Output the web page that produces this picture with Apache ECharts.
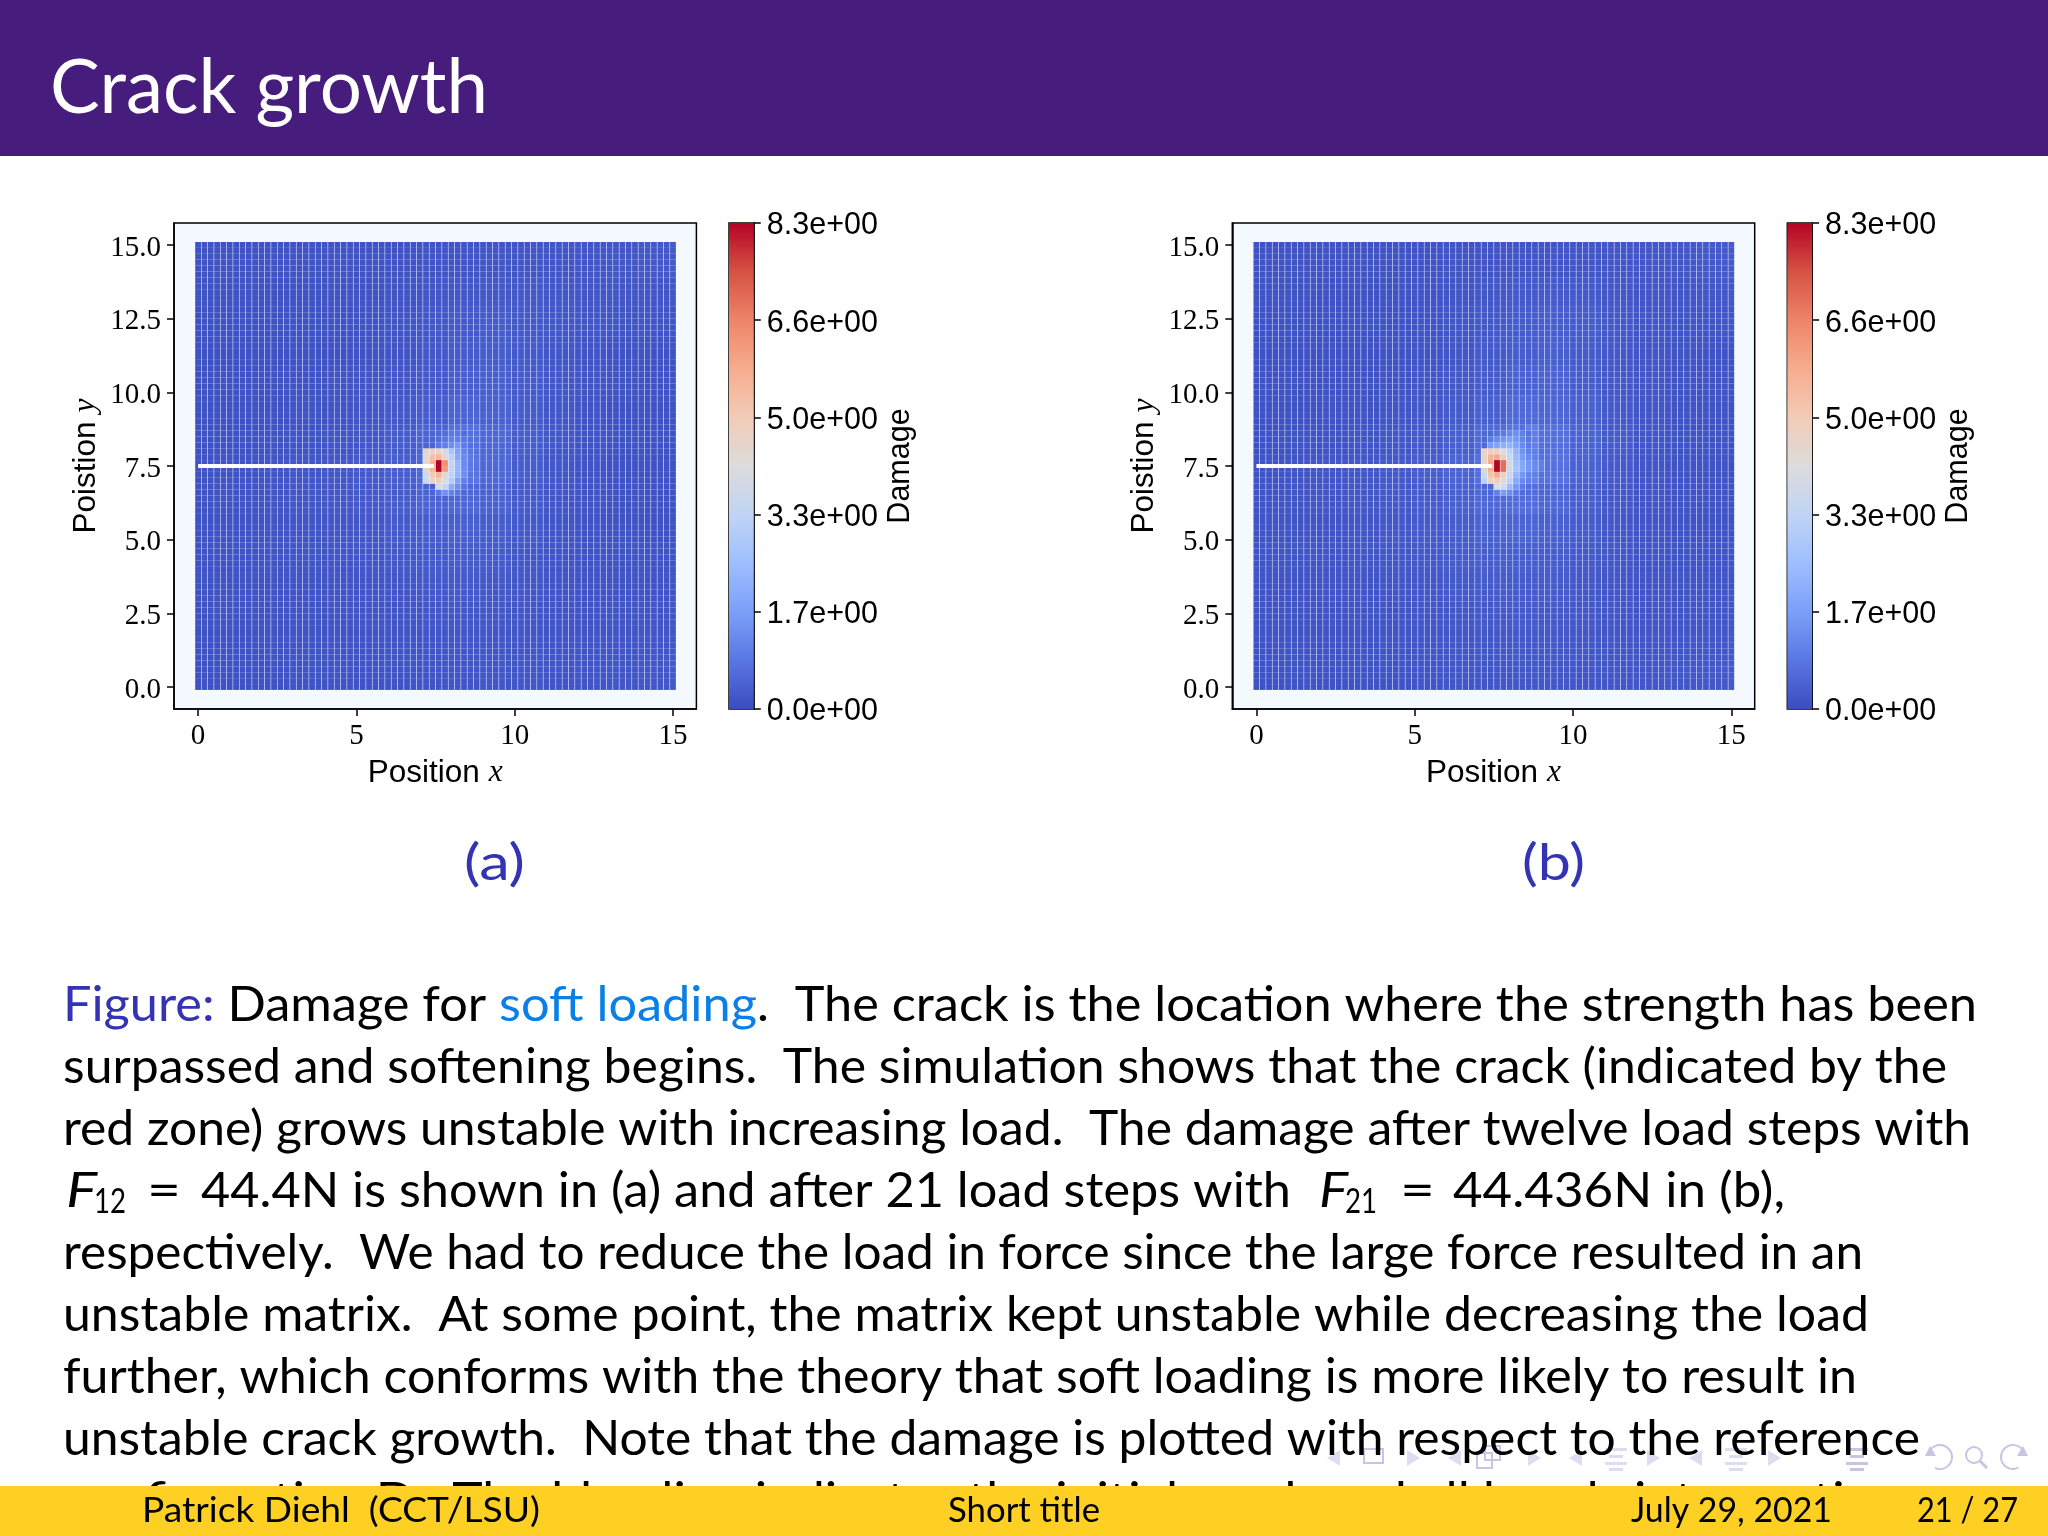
<!DOCTYPE html>
<html>
<head>
<meta charset="utf-8">
<title>Crack growth</title>
<script src="https://cdn.jsdelivr.net/npm/echarts@6/dist/echarts.min.js"></script>
<style>html,body{margin:0;padding:0;background:#fff}</style>
</head>
<body>
<div id="main" style="width:2048px;height:1536px;"></div>
<script type="text/javascript">
// mesh spacing of the simulation and number of nodes per side
var meshStep = 0.2;
var meshCount = 76;

// slow background damage per 1x1 block, top row is y=15, read by eye
var backgroundA = [
  [.14,.14,.13,.13,.13,.13,.13,.14,.15,.15,.16,.17,.18,.20,.24,.26],
  [.13,.13,.13,.13,.13,.13,.14,.15,.16,.17,.17,.17,.18,.19,.21,.24],
  [.13,.13,.12,.12,.13,.13,.15,.17,.20,.22,.21,.19,.17,.17,.18,.20],
  [.12,.12,.12,.12,.12,.13,.15,.19,.24,.27,.24,.20,.17,.15,.15,.16],
  [.12,.12,.12,.12,.12,.13,.16,.21,.28,.30,.25,.20,.16,.14,.13,.13],
  [.11,.11,.11,.12,.13,.15,.18,.24,.33,.34,.26,.19,.15,.13,.12,.12],
  [.11,.11,.12,.13,.14,.17,.21,.30,.42,.38,.27,.19,.14,.12,.11,.11],
  [.11,.12,.13,.14,.16,.20,.28,.42,.70,.50,.30,.20,.14,.12,.11,.11],
  [.13,.14,.15,.17,.20,.25,.33,.50,.75,.52,.30,.19,.14,.12,.11,.11],
  [.13,.14,.15,.17,.19,.23,.30,.42,.50,.40,.26,.18,.14,.12,.11,.12],
  [.14,.14,.15,.16,.18,.20,.25,.31,.34,.30,.23,.17,.14,.13,.12,.13],
  [.14,.14,.15,.15,.16,.18,.21,.25,.27,.25,.20,.16,.14,.13,.13,.14],
  [.13,.13,.14,.14,.15,.16,.18,.21,.23,.22,.19,.16,.14,.13,.14,.15],
  [.13,.13,.13,.14,.14,.15,.16,.18,.20,.20,.18,.16,.14,.15,.16,.17],
  [.12,.12,.13,.13,.14,.14,.15,.16,.18,.18,.17,.16,.15,.16,.18,.20],
  [.12,.12,.12,.13,.13,.14,.14,.15,.16,.17,.17,.16,.16,.17,.20,.23]
];
var backgroundB = [
  [.14,.14,.13,.13,.13,.13,.14,.15,.15,.16,.17,.18,.20,.22,.26,.28],
  [.13,.13,.13,.13,.13,.14,.15,.16,.17,.18,.18,.18,.19,.20,.23,.26],
  [.13,.13,.12,.12,.13,.14,.16,.19,.23,.25,.23,.20,.18,.18,.19,.22],
  [.12,.12,.12,.12,.12,.14,.17,.22,.28,.32,.27,.22,.18,.16,.16,.17],
  [.12,.12,.12,.12,.13,.15,.18,.25,.33,.36,.29,.22,.17,.15,.14,.14],
  [.11,.11,.12,.12,.14,.17,.21,.29,.40,.42,.31,.22,.17,.14,.13,.13],
  [.11,.12,.13,.14,.16,.20,.26,.37,.55,.48,.34,.23,.17,.14,.13,.13],
  [.12,.13,.14,.16,.19,.24,.34,.55,.95,.68,.40,.26,.18,.14,.13,.13],
  [.14,.15,.17,.20,.24,.31,.42,.65,1.0,.72,.40,.25,.17,.14,.13,.12],
  [.14,.15,.17,.20,.23,.28,.37,.52,.64,.50,.33,.22,.16,.14,.13,.13],
  [.15,.15,.16,.18,.21,.25,.31,.40,.44,.38,.28,.20,.16,.14,.13,.14],
  [.15,.15,.16,.17,.19,.22,.27,.32,.34,.31,.24,.19,.15,.14,.14,.15],
  [.14,.14,.15,.16,.17,.20,.23,.27,.29,.27,.22,.18,.15,.15,.15,.16],
  [.13,.14,.14,.15,.16,.18,.20,.23,.25,.24,.21,.18,.16,.16,.17,.18],
  [.13,.13,.14,.14,.15,.17,.18,.20,.22,.21,.19,.17,.17,.18,.20,.22],
  [.12,.13,.13,.14,.14,.16,.17,.18,.19,.19,.18,.17,.17,.19,.22,.25]
];

// nodes around the crack tip: x, y, damage
var tipCellsA = [
  [7.6,8.6,.5],[7.8,8.6,.6],[8.0,8.6,.8],[8.2,8.6,.8],[8.4,8.6,.6],
  [7.6,8.4,.6],[7.8,8.4,.8],[8.0,8.4,1.0],[8.2,8.4,1.0],[8.4,8.4,.8],
  [7.6,8.2,.8],[7.8,8.2,1.0],[8.0,8.2,1.3],[8.2,8.2,1.5],[8.4,8.2,.9],
  [7.2,8.0,4.6],[7.4,8.0,4.6],[7.6,8.0,4.6],[7.8,8.0,3.9],[8.0,8.0,2.8],[8.2,8.0,1.8],[8.4,8.0,1.1],[8.6,8.0,.8],
  [7.2,7.8,4.4],[7.4,7.8,5.3],[7.6,7.8,5.6],[7.8,7.8,4.5],[8.0,7.8,3.2],[8.2,7.8,1.9],[8.4,7.8,1.2],[8.6,7.8,.9],
  [7.2,7.6,4.5],[7.4,7.6,5.6],[7.6,7.6,8.3],[7.8,7.6,6.4],[8.0,7.6,3.5],[8.2,7.6,2.3],[8.4,7.6,1.2],[8.6,7.6,.9],
  [7.2,7.4,4.5],[7.4,7.4,5.6],[7.6,7.4,8.3],[7.8,7.4,6.2],[8.0,7.4,3.4],[8.2,7.4,2.3],[8.4,7.4,1.3],[8.6,7.4,.9],
  [7.2,7.2,3.8],[7.4,7.2,5.0],[7.6,7.2,5.6],[7.8,7.2,4.4],[8.0,7.2,3.3],[8.2,7.2,2.2],[8.4,7.2,1.3],[8.6,7.2,.8],
  [7.2,7.0,3.6],[7.4,7.0,4.6],[7.6,7.0,4.8],[7.8,7.0,4.1],[8.0,7.0,3.0],[8.2,7.0,1.7],[8.4,7.0,1.0],
  [7.6,6.8,4.0],[7.8,6.8,3.5],[8.0,6.8,2.0],[8.2,6.8,1.3],[8.4,6.8,.7],
  [7.6,6.6,.8],[7.8,6.6,1.4],[8.0,6.6,1.1],[8.2,6.6,.8]
];
var tipCellsB = [
  [7.8,8.8,.6],[8.0,8.8,.8],[8.2,8.8,.8],[8.4,8.8,.7],
  [7.6,8.6,.7],[7.8,8.6,.9],[8.0,8.6,1.2],[8.2,8.6,1.3],[8.4,8.6,1.0],[8.6,8.6,.7],
  [7.4,8.4,.9],[7.6,8.4,1.2],[7.8,8.4,1.5],[8.0,8.4,1.7],[8.2,8.4,1.5],[8.4,8.4,1.1],[8.6,8.4,.8],
  [7.4,8.2,1.6],[7.6,8.2,1.8],[7.8,8.2,2.1],[8.0,8.2,2.2],[8.2,8.2,1.8],[8.4,8.2,1.2],[8.6,8.2,.9],
  [7.2,8.0,4.6],[7.4,8.0,4.8],[7.6,8.0,4.7],[7.8,8.0,4.0],[8.0,8.0,3.2],[8.2,8.0,2.2],[8.4,8.0,1.4],[8.6,8.0,1.0],
  [7.2,7.8,4.7],[7.4,7.8,5.6],[7.6,7.8,5.9],[7.8,7.8,4.9],[8.0,7.8,3.6],[8.2,7.8,2.4],[8.4,7.8,1.6],[8.6,7.8,1.2],[8.8,7.8,1.0],
  [7.2,7.6,4.6],[7.4,7.6,5.8],[7.6,7.6,8.3],[7.8,7.6,7.0],[8.0,7.6,3.8],[8.2,7.6,2.6],[8.4,7.6,1.9],[8.6,7.6,1.5],[8.8,7.6,1.2],[9.0,7.6,1.0],
  [7.2,7.4,4.6],[7.4,7.4,5.8],[7.6,7.4,8.3],[7.8,7.4,7.0],[8.0,7.4,3.8],[8.2,7.4,2.7],[8.4,7.4,1.9],[8.6,7.4,1.5],[8.8,7.4,1.2],[9.0,7.4,1.0],
  [7.2,7.2,3.6],[7.4,7.2,5.2],[7.6,7.2,5.8],[7.8,7.2,4.8],[8.0,7.2,3.5],[8.2,7.2,2.3],[8.4,7.2,1.5],[8.6,7.2,1.1],
  [7.2,7.0,3.2],[7.4,7.0,4.6],[7.6,7.0,4.9],[7.8,7.0,4.3],[8.0,7.0,3.2],[8.2,7.0,1.9],[8.4,7.0,1.2],
  [7.6,6.8,4.1],[7.8,6.8,3.8],[8.0,6.8,2.4],[8.2,6.8,1.5],[8.4,6.8,.9],
  [7.6,6.6,1.0],[7.8,6.6,1.6],[8.0,6.6,1.3],[8.2,6.6,.9]
];

// pre-crack, drawn white along y=7.5
var crackLine = [[0, 7.5], [7.45, 7.5]];

var xTicks = [0, 5, 10, 15];
var yTicks = [0, 2.5, 5, 7.5, 10, 12.5, 15];
var colorbarTicks = [0, 1.66, 3.32, 4.98, 6.64, 8.3];
var colorbarLabels = ['0.0e+00', '1.7e+00', '3.3e+00', '5.0e+00', '6.6e+00', '8.3e+00'];
var damageMax = 8.3;

// coolwarm colormap
var coolwarm = ['#3b4cc0', '#5977e3', '#7b9ff9', '#9ebeff', '#c0d4f5', '#dddcdc', '#f2cbb7', '#f7ac8e', '#ee8468', '#d65244', '#b40426'];

var slideTitle = 'Crack growth';
var blue = '#3333b3';
var link = '#0a7fe6';
var captionLines = [
  [['Figure:', blue], [' Damage for '], ['soft loading', link], ['.  The crack is the location where the strength has been']],
  [['surpassed and softening begins.  The simulation shows that the crack (indicated by the']],
  [['red zone) grows unstable with increasing load.  The damage after twelve load steps with']],
  [],
  [['respectively.  We had to reduce the load in force since the large force resulted in an']],
  [['unstable matrix.  At some point, the matrix kept unstable while decreasing the load']],
  [['further, which conforms with the theory that soft loading is more likely to result in']],
  [['unstable crack growth.  Note that the damage is plotted with respect to the reference']],
  [['configuration D.  The blue line indicates the initial crack and all bonds intersecting']]
];
var captionRight = [1977, 1947, 1971, 0, 1863, 1869, 1857, 1920, 1900];
// the line with the formulas is set piece by piece: segment, left, right
var formulaLine = [
  [['F', null, 'i'], 66, 97], [['12', null, 's'], 94, 126], [['='], 147, 181],
  [['44.4N is shown in (a) and after 21 load steps with'], 201, 1291],
  [['F', null, 'i'], 1319, 1348], [['21', null, 's'], 1345, 1377], [['='], 1400, 1435],
  [['44.436N in (b),'], 1453, 1785]
];
var footerLeft = 'Patrick Diehl  (CCT/LSU)';
var footerMiddle = 'Short title';
var footerDate = 'July 29, 2021';
var footerPage = '21 / 27';

function buildCells(background, tipCells) {
  var tip = {};
  tipCells.forEach(function (c) { tip[Math.round(c[0] / meshStep) + '_' + Math.round(c[1] / meshStep)] = c[2]; });
  var cells = [];
  for (var i = 0; i < meshCount; i++) {
    for (var j = 0; j < meshCount; j++) {
      var col = Math.min(15, Math.floor(i * meshStep));
      var row = 15 - Math.min(15, Math.floor(j * meshStep));
      var v = tip[i + '_' + j];
      cells.push([+(i * meshStep).toFixed(1), +(j * meshStep).toFixed(1), v === undefined ? background[row][col] : v]);
    }
  }
  return cells;
}

var sans = '"Liberation Sans"';
var serif = '"Liberation Serif"';
var body = 'Lato';
var measure = document.createElement('canvas').getContext('2d');

function fontOf(size, style, family) {
  return (style || 'normal') + ' ' + size + 'px ' + family;
}
function widthOf(t, size, style, family) {
  measure.font = fontOf(size, style, family);
  return measure.measureText(t).width;
}
// distance from the middle of the em box to the baseline
function baseOffset(size, style, family) {
  measure.font = fontOf(size, style, family);
  measure.textBaseline = 'middle';
  var d = measure.measureText('H').actualBoundingBoxDescent;
  measure.textBaseline = 'alphabetic';
  return d;
}

// one line of mixed text stretched to run from left to right
function fitLine(segs, left, right, baseline, size, family, color, z) {
  var x = 0, kids = [];
  segs.forEach(function (s) {
    var sub = s[2] === 's';
    var sz = sub ? size * 0.72 : size;
    var st = s[2] === 'i' ? 'italic' : 'normal';
    kids.push({
      type: 'text', x: x, y: -baseOffset(sz, st, family) + (sub ? 6 : 0), z: z,
      style: { text: s[0], font: fontOf(sz, st, family), fill: s[1] || color, verticalAlign: 'middle', align: 'left' }
    });
    x += widthOf(s[0], sz, st, family);
  });
  return { type: 'group', x: left, y: baseline, scaleX: (right - left) / x, children: kids };
}

// beamer navigation symbols
function navSymbols() {
  var c = '#c8c4e6', pale = '#dedcf0', out = [];
  function tri(x, dir) {
    out.push({ type: 'polygon', z: 1, shape: { points: [[x + dir * 7, 1458], [x - dir * 6, 1450], [x - dir * 6, 1466]] }, style: { fill: pale } });
  }
  function box(x, y, w, h) {
    out.push({ type: 'rect', z: 1, shape: { x: x, y: y, width: w, height: h }, style: { fill: 'none', stroke: c, lineWidth: 2 } });
  }
  function list(x, col) {
    [1448, 1455, 1462, 1468].forEach(function (y, k) {
      out.push({ type: 'rect', z: 1, shape: { x: x + (k % 2 ? 4 : 0), y: y, width: k % 2 ? 14 : 22, height: 3 }, style: { fill: col } });
    });
  }
  [1334, 1455, 1576, 1696].forEach(function (x) { tri(x, -1); });
  [1413, 1534, 1653, 1774].forEach(function (x) { tri(x, 1); });
  box(1364, 1449, 19, 14);
  box(1477, 1453, 15, 15); box(1485, 1446, 15, 14);
  list(1605, pale); list(1725, pale); list(1846, c);
  out.push({ type: 'arc', z: 1, shape: { cx: 1940, cy: 1457, r: 12, startAngle: -2.4, endAngle: 2.0 }, style: { fill: 'none', stroke: c, lineWidth: 2 } });
  out.push({ type: 'polygon', z: 1, shape: { points: [[1925, 1456], [1936, 1456], [1930, 1446]] }, style: { fill: c } });
  out.push({ type: 'circle', z: 1, shape: { cx: 1974, cy: 1455, r: 8 }, style: { fill: 'none', stroke: c, lineWidth: 2 } });
  out.push({ type: 'line', z: 1, shape: { x1: 1980, y1: 1461, x2: 1987, y2: 1468 }, style: { stroke: c, lineWidth: 3 } });
  out.push({ type: 'arc', z: 1, shape: { cx: 2013, cy: 1457, r: 12, startAngle: 1.1, endAngle: 5.5 }, style: { fill: 'none', stroke: c, lineWidth: 2 } });
  out.push({ type: 'polygon', z: 1, shape: { points: [[2028, 1456], [2017, 1456], [2023, 1446]] }, style: { fill: c } });
  return out;
}

var graphics = [
  { type: 'rect', z: 5, shape: { x: 0, y: 0, width: 2048, height: 156 }, style: { fill: '#461d7c' } },
  fitLine([[slideTitle]], 50, 488, 113, 76, body, '#fff', 6),
  { type: 'rect', z: 5, shape: { x: 0, y: 1486, width: 2048, height: 50 }, style: { fill: '#fdd023' } },
  fitLine([[footerLeft]], 142, 540, 1522, 34, body, '#000', 6),
  fitLine([[footerMiddle]], 948, 1100, 1522, 34, body, '#000', 6),
  fitLine([[footerDate]], 1631, 1832, 1522, 34, body, '#000', 6),
  fitLine([[footerPage]], 1917, 2018, 1522, 34, body, '#000', 6),
  fitLine([['(a)']], 464, 525, 880, 50, body, blue, 3),
  fitLine([['(b)']], 1522, 1585, 880, 50, body, blue, 3)
].concat(navSymbols());

captionLines.forEach(function (segs, k) {
  if (segs.length) {
    graphics.push(fitLine(segs, 63, captionRight[k], 1021 + 62 * k, 48, body, '#000', 3));
  }
});
formulaLine.forEach(function (p) {
  graphics.push(fitLine([p[0]], p[1], p[2], 1207, 48, body, '#000', 3));
});

var panels = [
  { offset: 0, cells: buildCells(backgroundA, tipCellsA) },
  { offset: 1058.3, cells: buildCells(backgroundB, tipCellsB) }
];

// the top padding only moves the label down onto its tick
var labelBase = { color: '#000', rich: { v: { fontFamily: serif, fontSize: 29, color: '#000', padding: [6, 0, 0, 0] } } };
var barLabel = { color: '#000', rich: { v: { fontFamily: sans, fontSize: 30.5, color: '#000', padding: [6, 0, 0, 0] } } };
var nameRich = {
  a: { fontFamily: sans, fontSize: 31.5, color: '#000' },
  b: { fontFamily: serif, fontStyle: 'italic', fontSize: 31.5, color: '#000', padding: [0, 0, 0, 9] }
};
var option = {
  animation: false,
  backgroundColor: '#fff',
  graphic: { elements: graphics },
  visualMap: {
    show: false, type: 'continuous', min: 0, max: damageMax, dimension: 2,
    seriesIndex: [0, 1], inRange: { color: coolwarm }
  },
  grid: [], xAxis: [], yAxis: [], series: []
};

panels.forEach(function (p, n) {
  var frame = { show: true, backgroundColor: '#f3f9ff', borderColor: '#000', borderWidth: 1.5 };
  option.grid.push(Object.assign({ left: 174 + p.offset, top: 223, width: 522.4, height: 486 }, frame));
  option.xAxis.push({
    type: 'value', gridIndex: n, min: -0.761, max: 15.74,
    splitLine: { show: false },
    axisLine: { onZero: false, lineStyle: { color: '#000', width: 1.5 } },
    axisTick: { length: 7, lineStyle: { color: '#000', width: 1.5 }, customValues: xTicks },
    axisLabel: { margin: 13, customValues: xTicks, color: '#000', fontFamily: serif, fontSize: 29 },
    name: '{a|Position}{b|x}', nameLocation: 'middle', nameGap: 48,
    nameTextStyle: { rich: nameRich }
  });
  option.yAxis.push({
    type: 'value', gridIndex: n, min: -0.747, max: 15.745,
    splitLine: { show: false },
    axisLine: { onZero: false, lineStyle: { color: '#000', width: 1.5 } },
    axisTick: { length: 7, lineStyle: { color: '#000', width: 1.5 }, customValues: yTicks },
    axisLabel: Object.assign({ margin: 13, customValues: yTicks, formatter: function (v) { return '{v|' + v.toFixed(1) + '}'; } }, labelBase),
    name: '{a|Poistion}{b|y}', nameLocation: 'middle', nameGap: 72, nameRotate: 90,
    nameTextStyle: { rich: nameRich }
  });
  option.series.push({
    type: 'scatter', xAxisIndex: n, yAxisIndex: n, data: p.cells,
    symbol: 'rect', symbolSize: [5.8, 5.9], itemStyle: { opacity: 1 }, silent: true, z: 2, progressive: 0
  });
});

panels.forEach(function (p, n) {
  var g = n + 2;
  option.grid.push({ left: 729 + p.offset, top: 223, width: 24.8, height: 486, show: true, borderColor: '#000', borderWidth: 1.5 });
  option.xAxis.push({ type: 'category', gridIndex: g, data: ['Damage'], show: false });
  option.yAxis.push({
    type: 'value', gridIndex: g, position: 'right', min: 0, max: damageMax,
    splitLine: { show: false },
    axisLine: { show: true, lineStyle: { color: '#000', width: 1.5 } },
    axisTick: { show: true, length: 7, lineStyle: { color: '#000', width: 1.5 }, customValues: colorbarTicks },
    axisLabel: Object.assign({
      margin: 13, customValues: colorbarTicks,
      formatter: function (v) { return '{v|' + colorbarLabels[colorbarTicks.indexOf(v)] + '}'; }
    }, barLabel),
    name: 'Damage', nameLocation: 'middle', nameGap: 131, nameRotate: 90,
    nameTextStyle: { fontFamily: sans, fontSize: 30.5, color: '#000' }
  });
  option.series.push({
    type: 'bar', xAxisIndex: g, yAxisIndex: g, data: [damageMax], barWidth: '100%', silent: true,
    itemStyle: {
      color: {
        type: 'linear', x: 0, y: 1, x2: 0, y2: 0,
        colorStops: coolwarm.map(function (c, k) { return { offset: k / (coolwarm.length - 1), color: c }; })
      }
    }
  });
});

panels.forEach(function (p, n) {
  option.series.push({
    type: 'line', xAxisIndex: n, yAxisIndex: n, data: crackLine, symbol: 'none', silent: true, z: 4,
    lineStyle: { color: '#fff', width: 4 }
  });
});

var myChart = echarts.init(document.getElementById('main'), null, { renderer: 'canvas', devicePixelRatio: 1 });
myChart.setOption(option);
</script>
</body>
</html>
